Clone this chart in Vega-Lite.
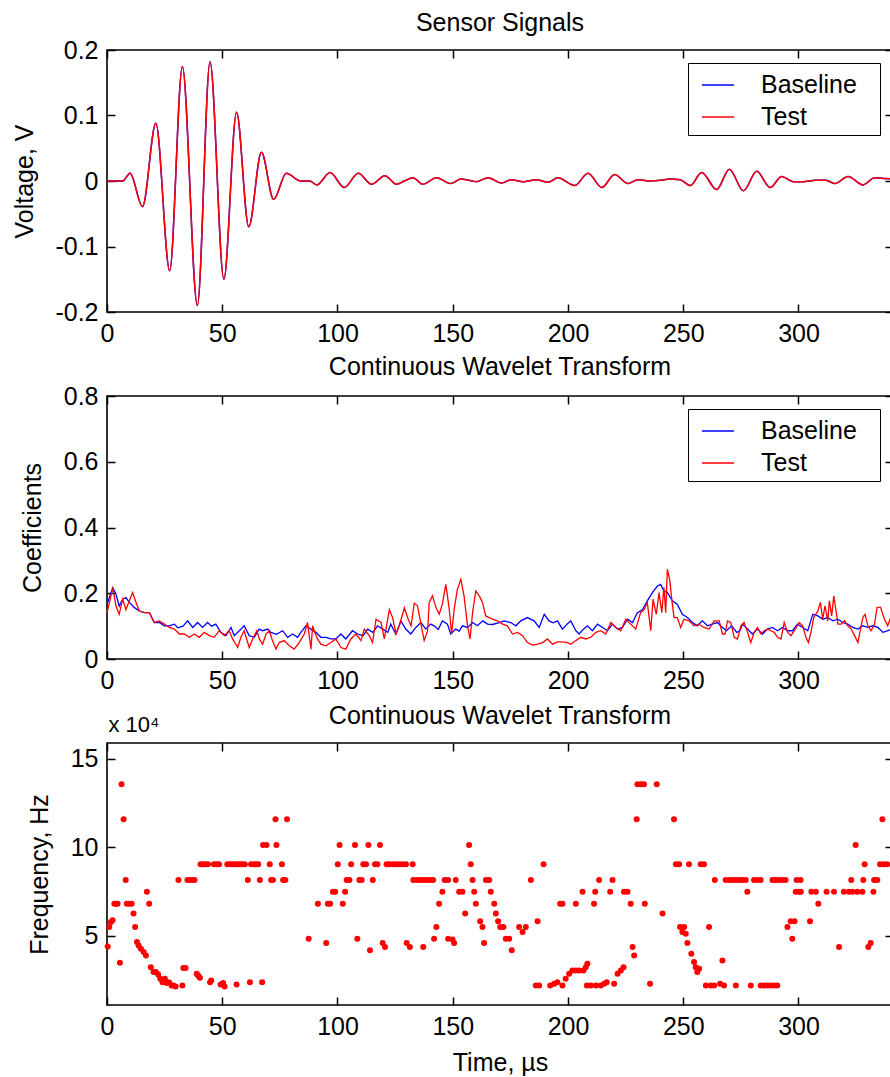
{
  "$schema": "https://vega.github.io/schema/vega-lite/v6.json",
  "background": "white",
  "padding": {"left": 11, "top": 10, "right": 0, "bottom": 0},
  "config": {
    "font": "Liberation Sans",
    "view": {"stroke": "black", "strokeWidth": 1.6},
    "axis": {"grid": false, "domain": false, "ticks": true, "tickColor": "black", "tickWidth": 1.5, "tickSize": -8, "labelFontSize": 25, "labelColor": "black", "labelFlush": false, "labelOverlap": false, "titleFontSize": 25, "titleFontWeight": "normal", "titleColor": "black"},
    "axisX": {"labelBaseline": "alphabetic", "labelPadding": 37},
    "axisY": {"labelPadding": 17},
    "title": {"fontSize": 25, "fontWeight": "normal", "color": "black", "frame": "group", "anchor": "middle", "baseline": "alphabetic"},
    "legend": {"labelFont": "Liberation Sans"}
  },
  "datasets": {
    "sig": [
      {"t":0,"v":0,"s":"Baseline"},{"t":6.8,"v":0,"s":"Baseline"},{"t":10,"v":0.012,"s":"Baseline"},{"t":15.4,"v":-0.039,"s":"Baseline"},{"t":21.2,"v":0.088,"s":"Baseline"},{"t":27.2,"v":-0.137,"s":"Baseline"},{"t":32.7,"v":0.175,"s":"Baseline"},{"t":39.2,"v":-0.19,"s":"Baseline"},{"t":44.7,"v":0.182,"s":"Baseline"},{"t":50.7,"v":-0.15,"s":"Baseline"},{"t":56.2,"v":0.105,"s":"Baseline"},{"t":61.5,"v":-0.07,"s":"Baseline"},{"t":67,"v":0.044,"s":"Baseline"},{"t":72.3,"v":-0.028,"s":"Baseline"},{"t":77.8,"v":0.012,"s":"Baseline"},{"t":84,"v":0,"s":"Baseline"},{"t":88,"v":0,"s":"Baseline"},{"t":91,"v":-0.006,"s":"Baseline"},{"t":96.8,"v":0.013,"s":"Baseline"},{"t":102.9,"v":-0.01,"s":"Baseline"},{"t":109,"v":0.012,"s":"Baseline"},{"t":114.8,"v":-0.005,"s":"Baseline"},{"t":120.6,"v":0.008,"s":"Baseline"},{"t":125.6,"v":-0.005,"s":"Baseline"},{"t":129,"v":0,"s":"Baseline"},{"t":132.8,"v":0.005,"s":"Baseline"},{"t":137,"v":-0.005,"s":"Baseline"},{"t":143,"v":0.005,"s":"Baseline"},{"t":149,"v":-0.004,"s":"Baseline"},{"t":153.6,"v":0.003,"s":"Baseline"},{"t":157,"v":0.001,"s":"Baseline"},{"t":160.3,"v":-0.001,"s":"Baseline"},{"t":165.4,"v":0.005,"s":"Baseline"},{"t":171.1,"v":-0.003,"s":"Baseline"},{"t":175.5,"v":0.002,"s":"Baseline"},{"t":180.5,"v":-0.001,"s":"Baseline"},{"t":186.3,"v":0.002,"s":"Baseline"},{"t":191.3,"v":-0.002,"s":"Baseline"},{"t":195.7,"v":0.005,"s":"Baseline"},{"t":202.9,"v":-0.007,"s":"Baseline"},{"t":208.7,"v":0.012,"s":"Baseline"},{"t":214.7,"v":-0.01,"s":"Baseline"},{"t":220.2,"v":0.01,"s":"Baseline"},{"t":226,"v":-0.004,"s":"Baseline"},{"t":230.3,"v":0.002,"s":"Baseline"},{"t":235,"v":0,"s":"Baseline"},{"t":240.2,"v":0.001,"s":"Baseline"},{"t":244,"v":0.003,"s":"Baseline"},{"t":248.7,"v":0.002,"s":"Baseline"},{"t":253,"v":-0.007,"s":"Baseline"},{"t":258,"v":0.013,"s":"Baseline"},{"t":264.5,"v":-0.013,"s":"Baseline"},{"t":270,"v":0.018,"s":"Baseline"},{"t":276.1,"v":-0.015,"s":"Baseline"},{"t":281.9,"v":0.015,"s":"Baseline"},{"t":287.7,"v":-0.01,"s":"Baseline"},{"t":292.7,"v":0.007,"s":"Baseline"},{"t":297.8,"v":-0.001,"s":"Baseline"},{"t":302,"v":-0.001,"s":"Baseline"},{"t":307.4,"v":0.001,"s":"Baseline"},{"t":312,"v":0.001,"s":"Baseline"},{"t":315.8,"v":-0.004,"s":"Baseline"},{"t":321.5,"v":0.007,"s":"Baseline"},{"t":328,"v":-0.006,"s":"Baseline"},{"t":333,"v":0.005,"s":"Baseline"},{"t":337.4,"v":0.004,"s":"Baseline"},{"t":341,"v":0.003,"s":"Baseline"},
      {"t":0,"v":0,"s":"Test"},{"t":6.8,"v":0,"s":"Test"},{"t":10,"v":0.012,"s":"Test"},{"t":15.4,"v":-0.039,"s":"Test"},{"t":21.2,"v":0.088,"s":"Test"},{"t":27.2,"v":-0.137,"s":"Test"},{"t":32.7,"v":0.175,"s":"Test"},{"t":39.2,"v":-0.19,"s":"Test"},{"t":44.7,"v":0.182,"s":"Test"},{"t":50.7,"v":-0.15,"s":"Test"},{"t":56.2,"v":0.105,"s":"Test"},{"t":61.5,"v":-0.07,"s":"Test"},{"t":67,"v":0.044,"s":"Test"},{"t":72.3,"v":-0.028,"s":"Test"},{"t":77.8,"v":0.012,"s":"Test"},{"t":84,"v":0,"s":"Test"},{"t":88,"v":0,"s":"Test"},{"t":91,"v":-0.006,"s":"Test"},{"t":96.8,"v":0.013,"s":"Test"},{"t":102.9,"v":-0.01,"s":"Test"},{"t":109,"v":0.012,"s":"Test"},{"t":114.8,"v":-0.005,"s":"Test"},{"t":120.6,"v":0.008,"s":"Test"},{"t":125.6,"v":-0.005,"s":"Test"},{"t":129,"v":0,"s":"Test"},{"t":132.8,"v":0.005,"s":"Test"},{"t":137,"v":-0.005,"s":"Test"},{"t":143,"v":0.005,"s":"Test"},{"t":149,"v":-0.004,"s":"Test"},{"t":153.6,"v":0.003,"s":"Test"},{"t":157,"v":0.001,"s":"Test"},{"t":160.3,"v":-0.001,"s":"Test"},{"t":165.4,"v":0.005,"s":"Test"},{"t":171.1,"v":-0.003,"s":"Test"},{"t":175.5,"v":0.002,"s":"Test"},{"t":180.5,"v":-0.001,"s":"Test"},{"t":186.3,"v":0.002,"s":"Test"},{"t":191.3,"v":-0.002,"s":"Test"},{"t":195.7,"v":0.005,"s":"Test"},{"t":202.9,"v":-0.007,"s":"Test"},{"t":208.7,"v":0.012,"s":"Test"},{"t":214.7,"v":-0.01,"s":"Test"},{"t":220.2,"v":0.01,"s":"Test"},{"t":226,"v":-0.004,"s":"Test"},{"t":230.3,"v":0.002,"s":"Test"},{"t":235,"v":0,"s":"Test"},{"t":240.2,"v":0.001,"s":"Test"},{"t":244,"v":0.003,"s":"Test"},{"t":248.7,"v":0.002,"s":"Test"},{"t":253,"v":-0.007,"s":"Test"},{"t":258,"v":0.013,"s":"Test"},{"t":264.5,"v":-0.013,"s":"Test"},{"t":270,"v":0.018,"s":"Test"},{"t":276.1,"v":-0.015,"s":"Test"},{"t":281.9,"v":0.015,"s":"Test"},{"t":287.7,"v":-0.01,"s":"Test"},{"t":292.7,"v":0.007,"s":"Test"},{"t":297.8,"v":-0.001,"s":"Test"},{"t":302,"v":-0.001,"s":"Test"},{"t":307.4,"v":0.001,"s":"Test"},{"t":312,"v":0.001,"s":"Test"},{"t":315.8,"v":-0.004,"s":"Test"},{"t":321.5,"v":0.007,"s":"Test"},{"t":328,"v":-0.006,"s":"Test"},{"t":333,"v":0.005,"s":"Test"},{"t":337.4,"v":0.004,"s":"Test"},{"t":341,"v":0.003,"s":"Test"}
    ],
    "cwt": [
      {"t":0,"c":0.17,"s":"Baseline"},{"t":0.3,"c":0.172,"s":"Baseline"},{"t":2.5,"c":0.217,"s":"Baseline"},{"t":3.9,"c":0.197,"s":"Baseline"},{"t":5.3,"c":0.161,"s":"Baseline"},{"t":6.8,"c":0.182,"s":"Baseline"},{"t":8.2,"c":0.187,"s":"Baseline"},{"t":9.7,"c":0.172,"s":"Baseline"},{"t":11.8,"c":0.157,"s":"Baseline"},{"t":14.0,"c":0.146,"s":"Baseline"},{"t":16.2,"c":0.141,"s":"Baseline"},{"t":18.4,"c":0.141,"s":"Baseline"},{"t":20.5,"c":0.111,"s":"Baseline"},{"t":22.7,"c":0.111,"s":"Baseline"},{"t":24.9,"c":0.101,"s":"Baseline"},{"t":27.0,"c":0.101,"s":"Baseline"},{"t":29.2,"c":0.106,"s":"Baseline"},{"t":30.7,"c":0.095,"s":"Baseline"},{"t":33,"c":0.1,"s":"Baseline"},{"t":35.0,"c":0.116,"s":"Baseline"},{"t":37.2,"c":0.096,"s":"Baseline"},{"t":39.3,"c":0.111,"s":"Baseline"},{"t":41.5,"c":0.096,"s":"Baseline"},{"t":43.6,"c":0.111,"s":"Baseline"},{"t":45.4,"c":0.1,"s":"Baseline"},{"t":47.2,"c":0.106,"s":"Baseline"},{"t":49.4,"c":0.081,"s":"Baseline"},{"t":51.6,"c":0.071,"s":"Baseline"},{"t":53.8,"c":0.096,"s":"Baseline"},{"t":55.2,"c":0.071,"s":"Baseline"},{"t":57.4,"c":0.086,"s":"Baseline"},{"t":59.5,"c":0.101,"s":"Baseline"},{"t":61.7,"c":0.071,"s":"Baseline"},{"t":63.9,"c":0.066,"s":"Baseline"},{"t":66.0,"c":0.091,"s":"Baseline"},{"t":67.5,"c":0.086,"s":"Baseline"},{"t":69.7,"c":0.091,"s":"Baseline"},{"t":71.1,"c":0.081,"s":"Baseline"},{"t":73.5,"c":0.075,"s":"Baseline"},{"t":76.2,"c":0.086,"s":"Baseline"},{"t":78.4,"c":0.066,"s":"Baseline"},{"t":80.5,"c":0.076,"s":"Baseline"},{"t":82.7,"c":0.066,"s":"Baseline"},{"t":84.1,"c":0.081,"s":"Baseline"},{"t":86.3,"c":0.101,"s":"Baseline"},{"t":88.5,"c":0.091,"s":"Baseline"},{"t":90.6,"c":0.081,"s":"Baseline"},{"t":92.8,"c":0.066,"s":"Baseline"},{"t":95.0,"c":0.066,"s":"Baseline"},{"t":97.1,"c":0.061,"s":"Baseline"},{"t":99.3,"c":0.061,"s":"Baseline"},{"t":101.5,"c":0.076,"s":"Baseline"},{"t":103.6,"c":0.061,"s":"Baseline"},{"t":106.5,"c":0.086,"s":"Baseline"},{"t":108.7,"c":0.076,"s":"Baseline"},{"t":111.1,"c":0.071,"s":"Baseline"},{"t":113.1,"c":0.091,"s":"Baseline"},{"t":115.3,"c":0.081,"s":"Baseline"},{"t":117.4,"c":0.101,"s":"Baseline"},{"t":119.6,"c":0.091,"s":"Baseline"},{"t":121.8,"c":0.081,"s":"Baseline"},{"t":123.1,"c":0.106,"s":"Baseline"},{"t":125.3,"c":0.076,"s":"Baseline"},{"t":127.5,"c":0.116,"s":"Baseline"},{"t":129.6,"c":0.091,"s":"Baseline"},{"t":131.8,"c":0.076,"s":"Baseline"},{"t":134.0,"c":0.096,"s":"Baseline"},{"t":136.2,"c":0.111,"s":"Baseline"},{"t":138.3,"c":0.091,"s":"Baseline"},{"t":140.4,"c":0.106,"s":"Baseline"},{"t":141.9,"c":0.101,"s":"Baseline"},{"t":143.7,"c":0.09,"s":"Baseline"},{"t":145.5,"c":0.116,"s":"Baseline"},{"t":147.7,"c":0.106,"s":"Baseline"},{"t":149.1,"c":0.076,"s":"Baseline"},{"t":151.3,"c":0.091,"s":"Baseline"},{"t":152.8,"c":0.085,"s":"Baseline"},{"t":154.2,"c":0.101,"s":"Baseline"},{"t":156.4,"c":0.096,"s":"Baseline"},{"t":158.6,"c":0.111,"s":"Baseline"},{"t":160.7,"c":0.101,"s":"Baseline"},{"t":163.0,"c":0.116,"s":"Baseline"},{"t":165.1,"c":0.106,"s":"Baseline"},{"t":167.2,"c":0.105,"s":"Baseline"},{"t":169.8,"c":0.11,"s":"Baseline"},{"t":172.3,"c":0.116,"s":"Baseline"},{"t":175.2,"c":0.111,"s":"Baseline"},{"t":177.4,"c":0.101,"s":"Baseline"},{"t":179.5,"c":0.116,"s":"Baseline"},{"t":182.4,"c":0.126,"s":"Baseline"},{"t":185.3,"c":0.116,"s":"Baseline"},{"t":187.5,"c":0.096,"s":"Baseline"},{"t":189.7,"c":0.136,"s":"Baseline"},{"t":191.8,"c":0.116,"s":"Baseline"},{"t":193.6,"c":0.11,"s":"Baseline"},{"t":195.4,"c":0.116,"s":"Baseline"},{"t":197.6,"c":0.091,"s":"Baseline"},{"t":199.6,"c":0.106,"s":"Baseline"},{"t":201.2,"c":0.116,"s":"Baseline"},{"t":203.4,"c":0.086,"s":"Baseline"},{"t":204.8,"c":0.076,"s":"Baseline"},{"t":206.6,"c":0.09,"s":"Baseline"},{"t":208.4,"c":0.101,"s":"Baseline"},{"t":210.6,"c":0.086,"s":"Baseline"},{"t":212.8,"c":0.106,"s":"Baseline"},{"t":215.0,"c":0.096,"s":"Baseline"},{"t":217.1,"c":0.086,"s":"Baseline"},{"t":219.3,"c":0.106,"s":"Baseline"},{"t":221.5,"c":0.091,"s":"Baseline"},{"t":223.6,"c":0.096,"s":"Baseline"},{"t":225.8,"c":0.121,"s":"Baseline"},{"t":228.0,"c":0.111,"s":"Baseline"},{"t":230.1,"c":0.141,"s":"Baseline"},{"t":232.3,"c":0.15,"s":"Baseline"},{"t":234.4,"c":0.177,"s":"Baseline"},{"t":236.6,"c":0.202,"s":"Baseline"},{"t":238.8,"c":0.222,"s":"Baseline"},{"t":240.2,"c":0.227,"s":"Baseline"},{"t":241.6,"c":0.207,"s":"Baseline"},{"t":243.1,"c":0.202,"s":"Baseline"},{"t":245.3,"c":0.177,"s":"Baseline"},{"t":247.4,"c":0.167,"s":"Baseline"},{"t":249.6,"c":0.136,"s":"Baseline"},{"t":251.8,"c":0.126,"s":"Baseline"},{"t":254.0,"c":0.111,"s":"Baseline"},{"t":256.1,"c":0.101,"s":"Baseline"},{"t":258.3,"c":0.116,"s":"Baseline"},{"t":260.5,"c":0.101,"s":"Baseline"},{"t":262.6,"c":0.106,"s":"Baseline"},{"t":264.8,"c":0.111,"s":"Baseline"},{"t":267.0,"c":0.096,"s":"Baseline"},{"t":268.8,"c":0.086,"s":"Baseline"},{"t":271.0,"c":0.101,"s":"Baseline"},{"t":273.2,"c":0.081,"s":"Baseline"},{"t":274.6,"c":0.086,"s":"Baseline"},{"t":275.7,"c":0.106,"s":"Baseline"},{"t":277.9,"c":0.091,"s":"Baseline"},{"t":280.0,"c":0.076,"s":"Baseline"},{"t":282.2,"c":0.091,"s":"Baseline"},{"t":284.4,"c":0.076,"s":"Baseline"},{"t":286.6,"c":0.091,"s":"Baseline"},{"t":288.7,"c":0.096,"s":"Baseline"},{"t":290.9,"c":0.086,"s":"Baseline"},{"t":293.1,"c":0.096,"s":"Baseline"},{"t":295.3,"c":0.086,"s":"Baseline"},{"t":297.4,"c":0.086,"s":"Baseline"},{"t":299.6,"c":0.106,"s":"Baseline"},{"t":301.8,"c":0.096,"s":"Baseline"},{"t":304.0,"c":0.086,"s":"Baseline"},{"t":306.2,"c":0.136,"s":"Baseline"},{"t":308.4,"c":0.131,"s":"Baseline"},{"t":310.6,"c":0.121,"s":"Baseline"},{"t":312.7,"c":0.126,"s":"Baseline"},{"t":314.9,"c":0.116,"s":"Baseline"},{"t":317.1,"c":0.121,"s":"Baseline"},{"t":319.2,"c":0.111,"s":"Baseline"},{"t":321.4,"c":0.106,"s":"Baseline"},{"t":323.6,"c":0.096,"s":"Baseline"},{"t":325.8,"c":0.091,"s":"Baseline"},{"t":327.9,"c":0.101,"s":"Baseline"},{"t":330.1,"c":0.096,"s":"Baseline"},{"t":332.3,"c":0.101,"s":"Baseline"},{"t":334.5,"c":0.096,"s":"Baseline"},{"t":336.6,"c":0.081,"s":"Baseline"},{"t":338.8,"c":0.086,"s":"Baseline"},{"t":340.2,"c":0.091,"s":"Baseline"},
      {"t":0,"c":0.14,"s":"Test"},{"t":1.0,"c":0.17,"s":"Test"},{"t":2.5,"c":0.217,"s":"Test"},{"t":3.9,"c":0.161,"s":"Test"},{"t":5.3,"c":0.136,"s":"Test"},{"t":6.8,"c":0.182,"s":"Test"},{"t":8.2,"c":0.15,"s":"Test"},{"t":9.7,"c":0.177,"s":"Test"},{"t":11.1,"c":0.202,"s":"Test"},{"t":12.6,"c":0.172,"s":"Test"},{"t":14.0,"c":0.146,"s":"Test"},{"t":16.2,"c":0.141,"s":"Test"},{"t":18.4,"c":0.141,"s":"Test"},{"t":20.5,"c":0.111,"s":"Test"},{"t":22.7,"c":0.116,"s":"Test"},{"t":24.9,"c":0.106,"s":"Test"},{"t":27.0,"c":0.096,"s":"Test"},{"t":29.2,"c":0.091,"s":"Test"},{"t":31.4,"c":0.076,"s":"Test"},{"t":33.5,"c":0.076,"s":"Test"},{"t":35.7,"c":0.066,"s":"Test"},{"t":37.9,"c":0.076,"s":"Test"},{"t":40.0,"c":0.066,"s":"Test"},{"t":42.2,"c":0.081,"s":"Test"},{"t":44.4,"c":0.071,"s":"Test"},{"t":46.5,"c":0.066,"s":"Test"},{"t":48.7,"c":0.086,"s":"Test"},{"t":50.9,"c":0.071,"s":"Test"},{"t":53.0,"c":0.086,"s":"Test"},{"t":54.5,"c":0.061,"s":"Test"},{"t":56.7,"c":0.035,"s":"Test"},{"t":58.1,"c":0.066,"s":"Test"},{"t":59.5,"c":0.086,"s":"Test"},{"t":61.7,"c":0.035,"s":"Test"},{"t":63.2,"c":0.061,"s":"Test"},{"t":65.0,"c":0.086,"s":"Test"},{"t":66.1,"c":0.061,"s":"Test"},{"t":67.5,"c":0.045,"s":"Test"},{"t":69.0,"c":0.076,"s":"Test"},{"t":70.4,"c":0.086,"s":"Test"},{"t":71.8,"c":0.056,"s":"Test"},{"t":73.3,"c":0.03,"s":"Test"},{"t":74.7,"c":0.05,"s":"Test"},{"t":76.9,"c":0.056,"s":"Test"},{"t":79.1,"c":0.04,"s":"Test"},{"t":81.2,"c":0.03,"s":"Test"},{"t":83.4,"c":0.05,"s":"Test"},{"t":85.6,"c":0.076,"s":"Test"},{"t":87.0,"c":0.111,"s":"Test"},{"t":88.5,"c":0.03,"s":"Test"},{"t":89.2,"c":0.101,"s":"Test"},{"t":89.9,"c":0.086,"s":"Test"},{"t":91.3,"c":0.061,"s":"Test"},{"t":92.8,"c":0.045,"s":"Test"},{"t":95.0,"c":0.04,"s":"Test"},{"t":97.1,"c":0.05,"s":"Test"},{"t":99.3,"c":0.061,"s":"Test"},{"t":101.5,"c":0.035,"s":"Test"},{"t":103.6,"c":0.03,"s":"Test"},{"t":105.8,"c":0.061,"s":"Test"},{"t":108.0,"c":0.076,"s":"Test"},{"t":110.2,"c":0.056,"s":"Test"},{"t":111.6,"c":0.091,"s":"Test"},{"t":113.8,"c":0.071,"s":"Test"},{"t":115.2,"c":0.05,"s":"Test"},{"t":116.7,"c":0.121,"s":"Test"},{"t":118.9,"c":0.111,"s":"Test"},{"t":120.3,"c":0.061,"s":"Test"},{"t":122.5,"c":0.15,"s":"Test"},{"t":123.9,"c":0.126,"s":"Test"},{"t":125.4,"c":0.076,"s":"Test"},{"t":126.8,"c":0.101,"s":"Test"},{"t":129.0,"c":0.156,"s":"Test"},{"t":130.4,"c":0.126,"s":"Test"},{"t":131.9,"c":0.101,"s":"Test"},{"t":133.3,"c":0.17,"s":"Test"},{"t":134.7,"c":0.162,"s":"Test"},{"t":136.2,"c":0.106,"s":"Test"},{"t":137.6,"c":0.056,"s":"Test"},{"t":139.1,"c":0.086,"s":"Test"},{"t":139.8,"c":0.172,"s":"Test"},{"t":141.2,"c":0.192,"s":"Test"},{"t":142.7,"c":0.157,"s":"Test"},{"t":144.1,"c":0.136,"s":"Test"},{"t":145.5,"c":0.167,"s":"Test"},{"t":147.0,"c":0.227,"s":"Test"},{"t":148.5,"c":0.15,"s":"Test"},{"t":149.5,"c":0.076,"s":"Test"},{"t":150.6,"c":0.15,"s":"Test"},{"t":152.0,"c":0.212,"s":"Test"},{"t":153.5,"c":0.242,"s":"Test"},{"t":154.9,"c":0.192,"s":"Test"},{"t":156.4,"c":0.101,"s":"Test"},{"t":157.5,"c":0.061,"s":"Test"},{"t":158.6,"c":0.141,"s":"Test"},{"t":160.0,"c":0.207,"s":"Test"},{"t":161.5,"c":0.192,"s":"Test"},{"t":162.9,"c":0.172,"s":"Test"},{"t":164.3,"c":0.131,"s":"Test"},{"t":165.8,"c":0.126,"s":"Test"},{"t":167.2,"c":0.121,"s":"Test"},{"t":169.4,"c":0.116,"s":"Test"},{"t":171.6,"c":0.106,"s":"Test"},{"t":173.7,"c":0.101,"s":"Test"},{"t":175.9,"c":0.076,"s":"Test"},{"t":178.1,"c":0.081,"s":"Test"},{"t":180.3,"c":0.071,"s":"Test"},{"t":182.4,"c":0.05,"s":"Test"},{"t":184.6,"c":0.042,"s":"Test"},{"t":186.8,"c":0.045,"s":"Test"},{"t":189.0,"c":0.05,"s":"Test"},{"t":191.1,"c":0.061,"s":"Test"},{"t":193.3,"c":0.045,"s":"Test"},{"t":195.4,"c":0.052,"s":"Test"},{"t":197.6,"c":0.052,"s":"Test"},{"t":199.8,"c":0.05,"s":"Test"},{"t":201.2,"c":0.045,"s":"Test"},{"t":203.4,"c":0.056,"s":"Test"},{"t":205.6,"c":0.066,"s":"Test"},{"t":207.7,"c":0.061,"s":"Test"},{"t":209.9,"c":0.066,"s":"Test"},{"t":212.1,"c":0.081,"s":"Test"},{"t":214.2,"c":0.086,"s":"Test"},{"t":216.4,"c":0.076,"s":"Test"},{"t":218.6,"c":0.111,"s":"Test"},{"t":220.7,"c":0.096,"s":"Test"},{"t":222.9,"c":0.086,"s":"Test"},{"t":225.1,"c":0.121,"s":"Test"},{"t":227.2,"c":0.106,"s":"Test"},{"t":229.4,"c":0.091,"s":"Test"},{"t":231.5,"c":0.141,"s":"Test"},{"t":233.0,"c":0.15,"s":"Test"},{"t":234.4,"c":0.172,"s":"Test"},{"t":235.9,"c":0.086,"s":"Test"},{"t":236.9,"c":0.182,"s":"Test"},{"t":238.3,"c":0.136,"s":"Test"},{"t":239.5,"c":0.202,"s":"Test"},{"t":240.7,"c":0.141,"s":"Test"},{"t":241.6,"c":0.217,"s":"Test"},{"t":242.4,"c":0.141,"s":"Test"},{"t":243.1,"c":0.273,"s":"Test"},{"t":244.1,"c":0.242,"s":"Test"},{"t":245.0,"c":0.182,"s":"Test"},{"t":246.0,"c":0.126,"s":"Test"},{"t":247.4,"c":0.126,"s":"Test"},{"t":248.9,"c":0.096,"s":"Test"},{"t":250.3,"c":0.121,"s":"Test"},{"t":252.5,"c":0.116,"s":"Test"},{"t":254.7,"c":0.101,"s":"Test"},{"t":256.8,"c":0.106,"s":"Test"},{"t":259.0,"c":0.096,"s":"Test"},{"t":261.2,"c":0.091,"s":"Test"},{"t":263.4,"c":0.116,"s":"Test"},{"t":265.6,"c":0.116,"s":"Test"},{"t":267.0,"c":0.076,"s":"Test"},{"t":268.1,"c":0.076,"s":"Test"},{"t":269.2,"c":0.116,"s":"Test"},{"t":270.6,"c":0.111,"s":"Test"},{"t":272.1,"c":0.066,"s":"Test"},{"t":273.5,"c":0.061,"s":"Test"},{"t":275.0,"c":0.101,"s":"Test"},{"t":276.4,"c":0.111,"s":"Test"},{"t":277.9,"c":0.081,"s":"Test"},{"t":279.3,"c":0.05,"s":"Test"},{"t":280.8,"c":0.081,"s":"Test"},{"t":282.2,"c":0.096,"s":"Test"},{"t":283.7,"c":0.076,"s":"Test"},{"t":285.1,"c":0.086,"s":"Test"},{"t":286.6,"c":0.091,"s":"Test"},{"t":288.0,"c":0.086,"s":"Test"},{"t":289.5,"c":0.081,"s":"Test"},{"t":290.9,"c":0.066,"s":"Test"},{"t":292.4,"c":0.061,"s":"Test"},{"t":293.8,"c":0.111,"s":"Test"},{"t":295.3,"c":0.081,"s":"Test"},{"t":296.7,"c":0.071,"s":"Test"},{"t":298.2,"c":0.086,"s":"Test"},{"t":300.3,"c":0.111,"s":"Test"},{"t":301.8,"c":0.101,"s":"Test"},{"t":303.2,"c":0.066,"s":"Test"},{"t":304.3,"c":0.05,"s":"Test"},{"t":305.4,"c":0.081,"s":"Test"},{"t":306.6,"c":0.126,"s":"Test"},{"t":308.4,"c":0.146,"s":"Test"},{"t":309.5,"c":0.172,"s":"Test"},{"t":310.5,"c":0.121,"s":"Test"},{"t":311.5,"c":0.162,"s":"Test"},{"t":312.7,"c":0.116,"s":"Test"},{"t":313.4,"c":0.177,"s":"Test"},{"t":314.4,"c":0.131,"s":"Test"},{"t":315.3,"c":0.192,"s":"Test"},{"t":316.3,"c":0.146,"s":"Test"},{"t":317.1,"c":0.106,"s":"Test"},{"t":318.5,"c":0.106,"s":"Test"},{"t":320.0,"c":0.116,"s":"Test"},{"t":321.4,"c":0.101,"s":"Test"},{"t":322.9,"c":0.091,"s":"Test"},{"t":324.3,"c":0.071,"s":"Test"},{"t":325.8,"c":0.05,"s":"Test"},{"t":326.9,"c":0.091,"s":"Test"},{"t":327.9,"c":0.126,"s":"Test"},{"t":328.9,"c":0.136,"s":"Test"},{"t":330.1,"c":0.101,"s":"Test"},{"t":331.5,"c":0.086,"s":"Test"},{"t":333.0,"c":0.106,"s":"Test"},{"t":334.1,"c":0.157,"s":"Test"},{"t":335.6,"c":0.157,"s":"Test"},{"t":337.3,"c":0.121,"s":"Test"},{"t":338.7,"c":0.101,"s":"Test"},{"t":340.2,"c":0.131,"s":"Test"}
    ],
    "freq": [
      {"t":0.3,"f":44000},{"t":1.0,"f":55000},{"t":1.7,"f":57800},{"t":2.4,"f":58800},{"t":3.2,"f":68200},{"t":3.9,"f":68200},{"t":4.6,"f":68200},{"t":5.6,"f":34800},{"t":6.3,"f":135700},{"t":7.2,"f":115900},{"t":8.1,"f":81500},{"t":8.6,"f":68200},{"t":9.7,"f":68200},{"t":10.7,"f":68200},{"t":11.5,"f":62600},{"t":12.2,"f":55000},{"t":13.0,"f":46500},{"t":13.7,"f":44600},{"t":14.7,"f":42700},{"t":15.9,"f":40800},{"t":16.9,"f":38900},{"t":17.3,"f":74900},{"t":18.3,"f":68200},{"t":19.0,"f":32300},{"t":20.2,"f":29500},{"t":21.2,"f":29500},{"t":22.2,"f":28200},{"t":23.1,"f":25700},{"t":24.1,"f":23800},{"t":25.1,"f":25700},{"t":25.9,"f":23300},{"t":26.9,"f":23800},{"t":28.0,"f":21900},{"t":28.8,"f":21900},{"t":29.8,"f":21400},{"t":31.0,"f":81500},{"t":32.7,"f":21900},{"t":33.1,"f":31800},{"t":34.1,"f":31800},{"t":34.9,"f":81500},{"t":35.9,"f":81500},{"t":37.0,"f":81500},{"t":38.0,"f":81500},{"t":38.9,"f":28600},{"t":39.5,"f":27600},{"t":40.3,"f":26300},{"t":40.6,"f":90400},{"t":41.6,"f":90400},{"t":42.8,"f":90400},{"t":43.8,"f":90400},{"t":44.7,"f":23800},{"t":45.2,"f":24800},{"t":46.4,"f":90400},{"t":47.6,"f":90400},{"t":48.6,"f":90400},{"t":49.3,"f":22500},{"t":50.4,"f":23300},{"t":51.0,"f":21400},{"t":52.2,"f":90400},{"t":53.3,"f":90400},{"t":54.3,"f":90400},{"t":55.3,"f":90400},{"t":56.2,"f":22500},{"t":56.5,"f":90400},{"t":57.6,"f":90400},{"t":58.6,"f":90400},{"t":59.8,"f":90400},{"t":61.1,"f":81500},{"t":62.0,"f":23800},{"t":62.5,"f":90400},{"t":63.7,"f":90400},{"t":64.8,"f":90400},{"t":65.6,"f":90400},{"t":66.3,"f":81500},{"t":67.3,"f":23800},{"t":67.7,"f":101300},{"t":69.2,"f":101300},{"t":70.6,"f":90400},{"t":71.2,"f":81500},{"t":72.0,"f":81500},{"t":73.1,"f":115900},{"t":73.5,"f":101300},{"t":75.9,"f":90400},{"t":76.4,"f":81500},{"t":77.4,"f":81500},{"t":78.1,"f":115900},
      {"t":87.5,"f":48400},{"t":91.5,"f":68200},{"t":95.1,"f":45900},{"t":95.8,"f":68200},{"t":96.8,"f":68200},{"t":98.0,"f":74900},{"t":99.0,"f":74900},{"t":100.1,"f":90400},{"t":100.9,"f":101300},{"t":102.3,"f":68200},{"t":103.3,"f":74900},{"t":104.0,"f":81500},{"t":105.2,"f":81500},{"t":105.9,"f":90400},{"t":107.6,"f":101300},{"t":108.6,"f":48400},{"t":109.5,"f":81500},{"t":110.5,"f":81500},{"t":111.2,"f":90400},{"t":112.4,"f":90400},{"t":113.4,"f":101300},{"t":114.1,"f":41800},{"t":115.3,"f":81500},{"t":116.3,"f":90400},{"t":117.3,"f":90400},{"t":118.4,"f":101300},{"t":119.6,"f":45900},{"t":120.6,"f":43700},{"t":121.3,"f":90400},{"t":122.5,"f":90400},{"t":123.9,"f":90400},{"t":125.4,"f":90400},{"t":126.8,"f":90400},{"t":128.2,"f":90400},{"t":129.7,"f":90400},{"t":130.0,"f":45900},{"t":131.4,"f":43700},{"t":132.6,"f":90400},{"t":132.9,"f":81500},{"t":134.3,"f":81500},{"t":135.7,"f":81500},{"t":137.2,"f":81500},{"t":137.2,"f":43700},{"t":138.6,"f":81500},{"t":140.1,"f":81500},{"t":141.5,"f":81500},{"t":141.9,"f":48400},{"t":142.9,"f":55000},{"t":144.1,"f":68200},{"t":145.5,"f":74900},{"t":146.5,"f":81500},{"t":148.0,"f":81500},{"t":148.0,"f":48400},
      {"t":149.9,"f":47900},{"t":150.6,"f":45900},{"t":151.3,"f":81500},{"t":152.8,"f":74900},{"t":154.2,"f":74900},{"t":155.4,"f":62600},{"t":157.1,"f":101300},{"t":157.8,"f":90400},{"t":158.6,"f":81500},{"t":159.3,"f":74900},{"t":160.0,"f":68200},{"t":161.9,"f":58200},{"t":162.9,"f":55000},{"t":163.6,"f":45900},{"t":164.4,"f":81500},{"t":165.8,"f":81500},{"t":166.5,"f":74900},{"t":168.0,"f":68200},{"t":168.7,"f":62600},{"t":169.7,"f":58200},{"t":170.6,"f":55000},{"t":172.0,"f":55000},{"t":173.0,"f":48400},{"t":174.5,"f":48400},{"t":175.6,"f":41800},{"t":178.8,"f":55000},{"t":180.3,"f":52200},{"t":181.7,"f":55000},{"t":183.9,"f":81500},{"t":186.0,"f":21900},{"t":186.8,"f":58200},{"t":187.5,"f":21900},{"t":189.4,"f":90400},{"t":192.3,"f":21900},{"t":194.0,"f":22900},{"t":195.4,"f":23800},{"t":196.6,"f":68200},{"t":197.6,"f":68200},{"t":197.6,"f":21900},{"t":199.0,"f":25700},{"t":200.5,"f":28600},{"t":201.9,"f":30400},{"t":203.4,"f":68200},{"t":203.4,"f":30400},{"t":204.8,"f":30400},{"t":206.3,"f":74900},{"t":206.7,"f":30400},{"t":207.7,"f":32300},{"t":208.4,"f":34200},{"t":208.2,"f":21900},{"t":209.9,"f":21900},{"t":211.3,"f":68200},{"t":211.8,"f":74900},{"t":212.1,"f":21900},{"t":213.5,"f":81500},{"t":214.2,"f":21900},{"t":215.7,"f":22900},{"t":216.8,"f":23800},{"t":218.3,"f":74900},{"t":219.3,"f":81500},{"t":220.0,"f":22900},{"t":221.5,"f":28600},{"t":222.9,"f":30400},{"t":224.1,"f":32300},{"t":224.3,"f":74900},{"t":225.8,"f":74900},{"t":227.2,"f":68200},{"t":228.0,"f":43700},{"t":228.7,"f":38900},{"t":229.8,"f":115900},{"t":230.1,"f":135700},{"t":231.6,"f":135700},{"t":233.0,"f":135700},{"t":233.3,"f":68200},{"t":235.6,"f":22900},{"t":238.5,"f":135700},{"t":241.0,"f":62600},{"t":246.0,"f":115900},{"t":246.8,"f":90400},{"t":248.2,"f":90400},{"t":248.6,"f":55000},{"t":249.6,"f":52200},{"t":250.4,"f":55000},{"t":251.1,"f":51200},{"t":251.8,"f":45900},{"t":252.5,"f":90400},{"t":253.5,"f":39900},{"t":254.7,"f":35200},{"t":255.4,"f":32300},{"t":256.1,"f":29500},{"t":256.9,"f":31400},{"t":257.6,"f":90400},{"t":259.0,"f":90400},{"t":259.8,"f":21900},{"t":261.2,"f":55000},{"t":261.9,"f":21900},{"t":263.4,"f":21900},{"t":263.7,"f":81500},{"t":266.0,"f":22900},{"t":267.0,"f":36100},{"t":267.7,"f":21900},{"t":268.4,"f":81500},{"t":269.9,"f":81500},{"t":271.3,"f":81500},{"t":272.8,"f":81500},{"t":274.2,"f":81500},{"t":275.7,"f":81500},{"t":277.1,"f":81500},{"t":272.8,"f":21900},{"t":277.8,"f":74900},{"t":279.3,"f":21900},{"t":280.7,"f":81500},{"t":282.2,"f":81500},{"t":283.6,"f":81500},{"t":283.6,"f":21900},{"t":285.1,"f":21900},{"t":286.5,"f":21900},{"t":288.0,"f":21900},{"t":289.4,"f":21900},{"t":290.8,"f":21900},{"t":288.7,"f":81500},{"t":290.1,"f":81500},{"t":291.6,"f":81500},{"t":293.0,"f":81500},{"t":294.4,"f":81500},{"t":295.2,"f":55000},{"t":296.6,"f":58200},{"t":297.3,"f":48400},{"t":298.3,"f":58200},{"t":298.8,"f":74900},{"t":300.2,"f":74900},{"t":301.0,"f":74900},{"t":299.2,"f":81500},{"t":300.9,"f":81500},{"t":305.0,"f":58200},{"t":305.6,"f":74900},{"t":307.5,"f":74900},{"t":308.6,"f":68200},{"t":312.2,"f":74900},{"t":315.4,"f":74900},{"t":317.6,"f":43700},{"t":319.7,"f":74900},{"t":321.9,"f":74900},{"t":323.4,"f":74900},{"t":325.5,"f":74900},{"t":327.7,"f":74900},{"t":322.9,"f":81500},{"t":324.8,"f":101300},{"t":328.1,"f":81500},{"t":328.7,"f":90400},{"t":330.3,"f":43700},{"t":331.3,"f":45900},{"t":332.5,"f":74900},{"t":332.8,"f":81500},{"t":334.2,"f":81500},{"t":335.4,"f":90400},{"t":337.1,"f":90400},{"t":338.5,"f":90400},{"t":336.4,"f":115900}
    ]
  },
  "spacing": 84,
  "bounds": "flush",
  "resolve": {"scale": {"color": "independent"}, "legend": {"color": "independent"}},
  "vconcat": [
    {
      "width": 786, "height": 262,
      "title": {"text": "Sensor Signals", "offset": 2},
      "data": {"name": "sig"},
      "layer": [
        {
          "mark": {"type": "line", "strokeWidth": 1.5, "interpolate": "monotone"},
          "encoding": {
            "x": {"field": "t", "type": "quantitative", "scale": {"domain": [0, 341], "nice": false, "zero": false}, "axis": {"orient": "bottom", "values": [0, 50, 100, 150, 200, 250, 300], "format": "d", "title": null}},
            "y": {"field": "v", "type": "quantitative", "scale": {"domain": [-0.2, 0.2], "nice": false}, "axis": {"orient": "left", "values": [-0.2, -0.1, 0, 0.1, 0.2], "labelExpr": "datum.value == 0 ? '0' : (datum.value < 0 ? '-' + format(-datum.value, '.1f') : format(datum.value, '.1f'))", "title": "Voltage, V", "titleX": -75, "titleY": 131, "titleAngle": -90, "titleAlign": "center", "titleBaseline": "alphabetic"}},
            "color": {"field": "s", "type": "nominal", "scale": {"domain": ["Baseline", "Test"], "range": ["#0000ff", "#ff0000"]}, "legend": {"title": null, "orient": "none", "legendX": 581, "legendY": 13, "strokeColor": "black", "fillColor": "white", "padding": 5, "symbolType": "stroke", "symbolSize": 1024, "symbolStrokeWidth": 1.5, "symbolOffset": 8, "labelFontSize": 25, "labelColor": "black", "labelOffset": 26, "rowPadding": 2, "labelExpr": "datum.label + '\u2800'"}}
          }
        },
        {
          "mark": {"type": "line", "opacity": 0},
          "encoding": {
            "x": {"field": "t", "type": "quantitative", "axis": {"orient": "top", "values": [0, 50, 100, 150, 200, 250, 300], "labels": false, "title": null}},
            "y": {"field": "v", "type": "quantitative", "axis": {"orient": "right", "values": [-0.2, -0.1, 0, 0.1, 0.2], "labels": false, "title": null}}
          }
        }
      ],
      "resolve": {"axis": {"x": "independent", "y": "independent"}}
    },
    {
      "width": 786, "height": 263,
      "title": {"text": "Continuous Wavelet Transform", "offset": 4},
      "data": {"name": "cwt"},
      "layer": [
        {
          "mark": {"type": "line", "strokeWidth": 1.3},
          "encoding": {
            "x": {"field": "t", "type": "quantitative", "scale": {"domain": [0, 341], "nice": false, "zero": false}, "axis": {"orient": "bottom", "values": [0, 50, 100, 150, 200, 250, 300], "format": "d", "title": null}},
            "y": {"field": "c", "type": "quantitative", "scale": {"domain": [0, 0.8], "nice": false}, "axis": {"orient": "left", "values": [0, 0.2, 0.4, 0.6, 0.8], "labelExpr": "datum.value == 0 ? '0' : format(datum.value, '.1f')", "title": "Coefficients", "titleX": -67, "titleY": 131.5, "titleAngle": -90, "titleAlign": "center", "titleBaseline": "alphabetic"}},
            "color": {"field": "s", "type": "nominal", "scale": {"domain": ["Baseline", "Test"], "range": ["#0000ff", "#ff0000"]}, "legend": {"title": null, "orient": "none", "legendX": 581, "legendY": 13, "strokeColor": "black", "fillColor": "white", "padding": 5, "symbolType": "stroke", "symbolSize": 1024, "symbolStrokeWidth": 1.5, "symbolOffset": 8, "labelFontSize": 25, "labelColor": "black", "labelOffset": 26, "rowPadding": 2, "labelExpr": "datum.label + '\u2800'"}}
          }
        },
        {
          "mark": {"type": "line", "opacity": 0},
          "encoding": {
            "x": {"field": "t", "type": "quantitative", "axis": {"orient": "top", "values": [0, 50, 100, 150, 200, 250, 300], "labels": false, "title": null}},
            "y": {"field": "c", "type": "quantitative", "axis": {"orient": "right", "values": [0, 0.2, 0.4, 0.6, 0.8], "labels": false, "title": null}}
          }
        }
      ],
      "resolve": {"axis": {"x": "independent", "y": "independent"}}
    },
    {
      "width": 786, "height": 262,
      "title": {"text": "Continuous Wavelet Transform", "offset": -16},
      "data": {"name": "freq"},
      "layer": [
        {
          "mark": {"type": "circle", "size": 36, "color": "#ff0000", "opacity": 1},
          "encoding": {
            "x": {"field": "t", "type": "quantitative", "scale": {"domain": [0, 341], "nice": false, "zero": false}, "axis": {"orient": "bottom", "values": [0, 50, 100, 150, 200, 250, 300], "format": "d", "title": "Time, µs", "titleY": 65, "titleBaseline": "alphabetic"}},
            "y": {"field": "f", "type": "quantitative", "scale": {"domain": [10900, 159000], "nice": false, "zero": false}, "axis": {"orient": "left", "values": [50000, 100000, 150000], "labelExpr": "format(datum.value / 10000, 'd')", "title": "Frequency, Hz", "titleX": -60, "titleY": 131, "titleAngle": -90, "titleAlign": "center", "titleBaseline": "alphabetic"}}
          }
        },
        {
          "mark": {"type": "circle", "opacity": 0},
          "encoding": {
            "x": {"field": "t", "type": "quantitative", "axis": {"orient": "top", "values": [0, 50, 100, 150, 200, 250, 300], "labels": false, "title": "x 10⁴", "titleX": 1, "titleY": -12, "titleAlign": "left", "titleAnchor": "start", "titleBaseline": "alphabetic", "titleAngle": 0, "titleFontSize": 22}},
            "y": {"field": "f", "type": "quantitative", "axis": {"orient": "right", "values": [50000, 100000, 150000], "labels": false, "title": null}}
          }
        }
      ],
      "resolve": {"axis": {"x": "independent", "y": "independent"}}
    }
  ]
}
